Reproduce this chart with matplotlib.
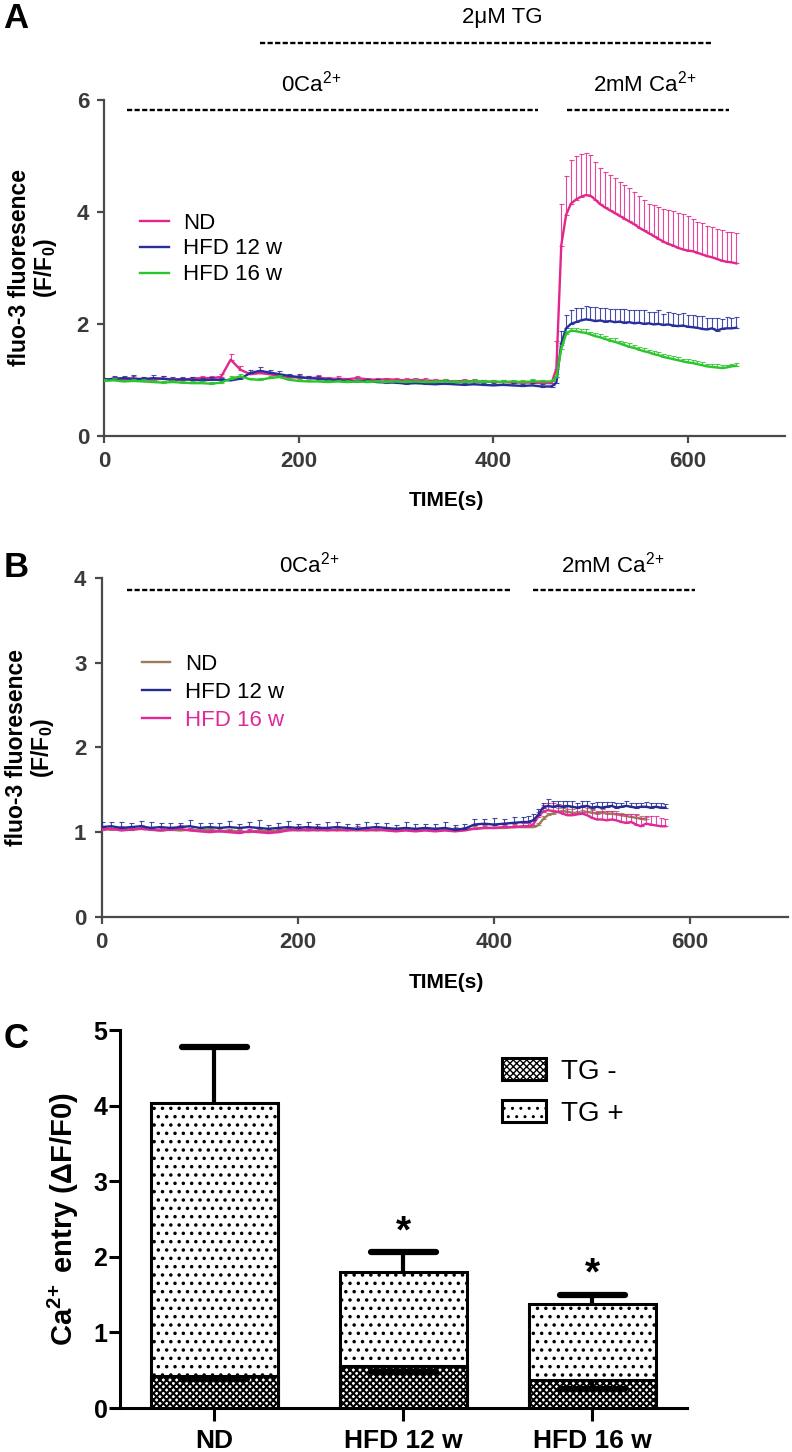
"""Fluo-3 Ca2+ traces (A, B) and Ca2+ entry summary bars (C)"""

import numpy as np
import matplotlib
matplotlib.use("Agg")
import matplotlib.pyplot as plt
from matplotlib.lines import Line2D

plt.rcParams['font.family'] = ['Liberation Sans', 'DejaVu Sans']
plt.rcParams['mathtext.fontset'] = 'custom'
plt.rcParams['mathtext.rm'] = 'Liberation Sans'
plt.rcParams['mathtext.it'] = 'Liberation Sans:italic'
plt.rcParams['mathtext.bf'] = 'Liberation Sans:bold'

GREY = '#4a4a4a'

# ---------------- panel A: with thapsigargin ----------------
t_a = list(range(0, 460, 10)) + list(range(460, 655, 5))

nd_a = [1.00, 1.01, 1.00, 1.02, 1.01, 1.00, 1.02, 1.01, 1.00, 1.02,
        1.03, 1.03, 1.05, 1.36, 1.18, 1.10, 1.12, 1.10, 1.07, 1.05,
        1.04, 1.03, 1.04, 1.02, 1.02, 1.01, 1.03, 1.01, 1.00, 1.01,
        1.00, 0.99, 1.00, 0.99, 0.98, 0.98, 0.97, 0.98, 0.97, 0.97,
        0.96, 0.96, 0.95, 0.95, 0.95, 0.94,
        0.94, 1.20, 3.40, 3.95, 4.15, 4.22, 4.27, 4.30, 4.29, 4.22,
        4.14, 4.08, 4.03, 3.98, 3.93, 3.88, 3.83, 3.78, 3.72, 3.67,
        3.62, 3.57, 3.52, 3.47, 3.43, 3.40, 3.36, 3.33, 3.31, 3.30,
        3.27, 3.24, 3.21, 3.19, 3.16, 3.13, 3.11, 3.10, 3.08]
nd_a_err = [0.03, 0.04, 0.03, 0.05, 0.04, 0.03, 0.04, 0.03, 0.04, 0.03,
            0.04, 0.03, 0.05, 0.10, 0.06, 0.04, 0.05, 0.04, 0.04, 0.03,
            0.04, 0.03, 0.04, 0.03, 0.04, 0.03, 0.04, 0.03, 0.04, 0.03,
            0.03, 0.04, 0.03, 0.04, 0.03, 0.04, 0.03, 0.03, 0.04, 0.03,
            0.03, 0.04, 0.03, 0.03, 0.04, 0.04,
            0.03, 0.50, 0.75, 0.70, 0.78, 0.78, 0.76, 0.76, 0.72, 0.68,
            0.64, 0.63, 0.63, 0.62, 0.61, 0.60, 0.59, 0.58, 0.56, 0.54,
            0.53, 0.55, 0.57, 0.59, 0.60, 0.61, 0.62, 0.63, 0.62, 0.58,
            0.55, 0.56, 0.54, 0.54, 0.53, 0.54, 0.53, 0.54, 0.54]

hfd12_a = [1.00, 1.02, 1.03, 1.02, 1.01, 1.03, 1.02, 1.00, 1.01, 1.00,
           0.99, 1.00, 1.00, 0.99, 1.02, 1.12, 1.16, 1.13, 1.10, 1.07,
           1.05, 1.03, 1.02, 1.00, 0.99, 0.98, 0.97, 0.98, 0.96, 0.95,
           0.95, 0.93, 0.94, 0.93, 0.92, 0.93, 0.92, 0.91, 0.92, 0.91,
           0.90, 0.91, 0.90, 0.89, 0.90, 0.88,
           0.88, 0.95, 1.65, 1.92, 2.00, 2.03, 2.06, 2.08, 2.07, 2.05,
           2.06, 2.04, 2.05, 2.03, 2.04, 2.02, 2.03, 2.01, 2.02, 2.00,
           2.01, 1.99, 2.00, 1.98, 1.99, 1.97, 1.96, 1.97, 1.95, 1.94,
           1.93, 1.91, 1.90, 1.92, 1.88, 1.91, 1.92, 1.92, 1.93]
hfd12_a_err = [0.04, 0.05, 0.04, 0.06, 0.04, 0.05, 0.04, 0.05, 0.04, 0.05,
               0.04, 0.05, 0.04, 0.04, 0.05, 0.06, 0.07, 0.05, 0.05, 0.04,
               0.05, 0.04, 0.05, 0.04, 0.05, 0.04, 0.05, 0.04, 0.05, 0.04,
               0.04, 0.05, 0.04, 0.05, 0.04, 0.05, 0.04, 0.04, 0.05, 0.04,
               0.04, 0.05, 0.04, 0.04, 0.05, 0.04,
               0.03, 0.10, 0.22, 0.24, 0.24, 0.25, 0.22, 0.24, 0.23, 0.25,
               0.22, 0.24, 0.21, 0.23, 0.22, 0.24, 0.21, 0.23, 0.22, 0.24,
               0.21, 0.22, 0.24, 0.20, 0.22, 0.23, 0.21, 0.22, 0.20, 0.22,
               0.21, 0.23, 0.20, 0.19, 0.22, 0.18, 0.20, 0.19, 0.20]

hfd16_a = [0.98, 0.99, 0.97, 0.98, 0.97, 0.96, 0.95, 0.96, 0.95, 0.94,
           0.94, 0.93, 0.95, 1.02, 1.06, 1.01, 1.00, 1.03, 1.05, 1.00,
           0.98, 0.97, 0.97, 0.96, 0.97, 0.96, 0.97, 0.96, 0.97, 0.96,
           0.97, 0.96, 0.97, 0.96, 0.96, 0.97, 0.96, 0.96, 0.97, 0.96,
           0.97, 0.96, 0.97, 0.96, 0.97, 0.97,
           0.97, 1.05, 1.55, 1.82, 1.88, 1.87, 1.85, 1.84, 1.81, 1.78,
           1.76, 1.73, 1.70, 1.68, 1.65, 1.62, 1.59, 1.57, 1.54, 1.51,
           1.49, 1.46, 1.44, 1.41, 1.39, 1.37, 1.35, 1.33, 1.31, 1.30,
           1.28, 1.26, 1.24, 1.23, 1.22, 1.21, 1.22, 1.24, 1.25]
hfd16_a_err = [0.03, 0.04, 0.03, 0.03, 0.04, 0.03, 0.03, 0.04, 0.03, 0.03,
               0.04, 0.03, 0.03, 0.04, 0.04, 0.03, 0.03, 0.04, 0.03, 0.03,
               0.04, 0.03, 0.03, 0.04, 0.03, 0.03, 0.04, 0.03, 0.03, 0.04,
               0.03, 0.03, 0.04, 0.03, 0.03, 0.04, 0.03, 0.03, 0.04, 0.03,
               0.03, 0.04, 0.03, 0.03, 0.04, 0.03,
               0.03, 0.05, 0.08, 0.06, 0.05, 0.06, 0.05, 0.06, 0.05, 0.05,
               0.06, 0.05, 0.05, 0.06, 0.05, 0.05, 0.06, 0.05, 0.05, 0.06,
               0.05, 0.05, 0.06, 0.05, 0.05, 0.06, 0.05, 0.05, 0.06, 0.05,
               0.05, 0.06, 0.05, 0.05, 0.06, 0.05, 0.05, 0.05, 0.05]

# ---------------- panel B: without thapsigargin ----------------
t_b = list(range(0, 440, 10)) + list(range(435, 580, 5))
t_b_nd = list(range(0, 440, 10)) + list(range(435, 560, 5))

nd_b = [1.04, 1.03, 1.04, 1.03, 1.04, 1.03, 1.02, 1.03, 1.02, 1.03,
        1.02, 1.03, 1.01, 1.02, 1.01, 1.00, 1.02, 1.01, 1.02, 1.03,
        1.02, 1.03, 1.02, 1.03, 1.02, 1.03, 1.02, 1.03, 1.02, 1.03,
        1.02, 1.03, 1.02, 1.03, 1.02, 1.03, 1.03, 1.04, 1.04, 1.05,
        1.05, 1.05, 1.06, 1.06,
        1.06, 1.06, 1.08, 1.15, 1.20, 1.22, 1.24, 1.25, 1.24, 1.23,
        1.22, 1.23, 1.24, 1.23, 1.22, 1.23, 1.22, 1.22, 1.21, 1.20,
        1.19, 1.18, 1.17, 1.16, 1.15]
nd_b_err = [0.03, 0.02, 0.03, 0.02, 0.03, 0.02, 0.03, 0.02, 0.03, 0.02,
            0.03, 0.02, 0.03, 0.02, 0.03, 0.02, 0.03, 0.02, 0.03, 0.02,
            0.03, 0.02, 0.03, 0.02, 0.03, 0.02, 0.03, 0.02, 0.03, 0.02,
            0.03, 0.02, 0.03, 0.02, 0.03, 0.02, 0.03, 0.02, 0.03, 0.02,
            0.03, 0.02, 0.03, 0.03,
            0.03, 0.03, 0.03, 0.04, 0.03, 0.03, 0.04, 0.03, 0.03, 0.04,
            0.03, 0.03, 0.04, 0.03, 0.03, 0.04, 0.03, 0.03, 0.04, 0.03,
            0.03, 0.04, 0.03, 0.03, 0.03]

hfd12_b = [1.06, 1.07, 1.05, 1.06, 1.07, 1.05, 1.06, 1.05, 1.06, 1.07,
           1.05, 1.06, 1.05, 1.06, 1.05, 1.06, 1.05, 1.04, 1.05, 1.06,
           1.05, 1.06, 1.05, 1.05, 1.06, 1.05, 1.04, 1.05, 1.06, 1.05,
           1.04, 1.05, 1.04, 1.05, 1.04, 1.05, 1.03, 1.04, 1.09, 1.10,
           1.09, 1.10, 1.11, 1.12,
           1.12, 1.14, 1.20, 1.29, 1.31, 1.30, 1.31, 1.30, 1.31, 1.30,
           1.29, 1.30, 1.31, 1.29, 1.30, 1.29, 1.30, 1.31, 1.29, 1.30,
           1.31, 1.30, 1.29, 1.30, 1.30, 1.29, 1.30, 1.29, 1.29]
hfd12_b_err = [0.06, 0.05, 0.07, 0.05, 0.06, 0.07, 0.05, 0.06, 0.05, 0.07,
               0.06, 0.05, 0.06, 0.07, 0.05, 0.06, 0.09, 0.05, 0.06, 0.07,
               0.05, 0.06, 0.05, 0.07, 0.06, 0.05, 0.06, 0.07, 0.05, 0.06,
               0.05, 0.07, 0.06, 0.05, 0.06, 0.07, 0.05, 0.06, 0.07, 0.06,
               0.08, 0.06, 0.07, 0.06,
               0.07, 0.08, 0.07, 0.06, 0.08, 0.07, 0.06, 0.07, 0.06, 0.07,
               0.06, 0.07, 0.06, 0.05, 0.06, 0.07, 0.06, 0.05, 0.06, 0.05,
               0.06, 0.05, 0.06, 0.05, 0.06, 0.05, 0.04, 0.05, 0.04]

hfd16_b = [1.03, 1.04, 1.02, 1.03, 1.04, 1.03, 1.02, 1.03, 1.04, 1.02,
           1.01, 1.00, 1.01, 1.00, 0.99, 1.01, 1.00, 0.99, 1.00, 1.02,
           1.03, 1.02, 1.03, 1.02, 1.03, 1.02, 1.03, 1.02, 1.03, 1.02,
           1.01, 1.02, 1.01, 1.02, 1.01, 1.02, 1.01, 1.02, 1.04, 1.05,
           1.05, 1.06, 1.06, 1.07,
           1.07, 1.09, 1.18, 1.24, 1.26, 1.25, 1.24, 1.22, 1.20, 1.20,
           1.21, 1.22, 1.20, 1.17, 1.15, 1.15, 1.14, 1.15, 1.14, 1.12,
           1.11, 1.12, 1.09, 1.07, 1.10, 1.09, 1.08, 1.07, 1.07]
hfd16_b_err = [0.04, 0.03, 0.04, 0.03, 0.04, 0.03, 0.04, 0.03, 0.04, 0.03,
               0.04, 0.03, 0.04, 0.03, 0.04, 0.03, 0.04, 0.03, 0.04, 0.03,
               0.04, 0.03, 0.04, 0.03, 0.04, 0.03, 0.04, 0.03, 0.04, 0.03,
               0.04, 0.03, 0.04, 0.03, 0.04, 0.03, 0.04, 0.03, 0.04, 0.03,
               0.04, 0.03, 0.04, 0.04,
               0.04, 0.05, 0.06, 0.08, 0.09, 0.10, 0.09, 0.10, 0.11, 0.10,
               0.09, 0.10, 0.11, 0.10, 0.09, 0.10, 0.11, 0.10, 0.09, 0.10,
               0.11, 0.10, 0.12, 0.10, 0.09, 0.10, 0.11, 0.10, 0.09]

# ---------------- panel C: Ca2+ entry ----------------
groups = ['ND', 'HFD 12 w', 'HFD 16 w']
tg_plus = [4.03, 1.80, 1.375]
tg_plus_err = [0.75, 0.27, 0.12]
tg_minus = [0.43, 0.555, 0.37]
tg_minus_err = [0.04, 0.085, 0.12]
star_y = [None, 2.32, 1.76]

CA = 'Ca$^{2\\!+}$'


def style_trace_axes(ax, ymax, yticks):
    for side in ('top', 'right'):
        ax.spines[side].set_visible(False)
    for side in ('left', 'bottom'):
        ax.spines[side].set_color(GREY)
        ax.spines[side].set_linewidth(1.6)
    ax.set_xlim(0, 700)
    ax.set_ylim(0, ymax)
    ax.set_xticks([0, 200, 400, 600])
    ax.set_yticks(yticks)
    ax.tick_params(direction='out', length=5, width=1.6, color=GREY,
                   labelsize=16, labelcolor='#3a3a3a', pad=6)
    for lab in ax.get_xticklabels() + ax.get_yticklabels():
        lab.set_fontweight('bold')
    ax.set_xlabel('TIME(s)', fontsize=15, fontweight='bold')
    ax.xaxis.set_label_coords(0.502, -0.165)
    ax.xaxis.label.set_va('top')
    ax.text(-0.104, 0.5, 'fluo-3 fluoresence\n(F/F$_{\\mathbf{0}}$)',
            transform=ax.transAxes, rotation=90, ha='center', va='center',
            fontsize=16.5, fontweight='bold', linespacing=1.05)


def trace(ax, t, y, err, color, label, z):
    ax.errorbar(t, y, yerr=[np.zeros(len(err)), err], fmt='none',
                ecolor=color, elinewidth=0.8, capsize=1.8, capthick=0.8,
                alpha=0.85, zorder=z)
    ax.plot(t, y, '-', color=color, lw=1.7, zorder=z + 0.5, label=label)


def dashed(ax, x0, x1, y):
    ax.plot([x0, x1], [y, y], color='black', lw=1.7,
            linestyle=(0, (2.2, 1.0)), clip_on=False)


def bar_err(ax, x, y0, y1, cap_w=0.345):
    # stem from the bar value to the end, cap only at the far end
    ax.vlines(x, y0, y1, color='black', lw=3, zorder=4)
    ax.hlines(y1, x - cap_w / 2, x + cap_w / 2, color='black', lw=4.5,
              capstyle='round', zorder=4)


def main():
    fig = plt.figure(figsize=(7.92, 14.52), dpi=100)

    # ---- A ----
    ax_a = fig.add_axes([0.1317, 0.6999, 0.8593, 0.2312])
    style_trace_axes(ax_a, 6, [0, 2, 4, 6])
    trace(ax_a, t_a, nd_a, nd_a_err, '#e2268c', 'ND', 3)
    trace(ax_a, t_a, hfd12_a, hfd12_a_err, '#27309a', 'HFD 12 w', 4)
    trace(ax_a, t_a, hfd16_a, hfd16_a_err, '#2cc52c', 'HFD 16 w', 5)
    handles = [Line2D([], [], color=c, lw=1.7) for c in ('#e2268c', '#27309a', '#2cc52c')]
    ax_a.legend(handles, ['ND', 'HFD 12 w', 'HFD 16 w'], loc='upper left',
                bbox_to_anchor=(0.052, 0.665), frameon=False, fontsize=16,
                handlelength=1.3, handletextpad=0.65, labelspacing=0.22,
                borderpad=0, borderaxespad=0)
    dashed(ax_a, 160, 625, 7.02)
    ax_a.text(409, 7.48, '2μM TG', ha='center', va='center', fontsize=16)
    dashed(ax_a, 23, 446, 5.82)
    ax_a.text(213, 6.3, '0' + CA, ha='center', va='center', fontsize=16)
    dashed(ax_a, 476, 643, 5.82)
    ax_a.text(556, 6.3, '2mM ' + CA, ha='center', va='center', fontsize=16)

    # ---- B ----
    ax_b = fig.add_axes([0.1284, 0.3685, 0.8666, 0.2335])
    style_trace_axes(ax_b, 4, [0, 1, 2, 3, 4])
    trace(ax_b, t_b_nd, nd_b, nd_b_err, '#9c7c55', 'ND', 3)
    trace(ax_b, t_b, hfd16_b, hfd16_b_err, '#e0289a', 'HFD 16 w', 4)
    trace(ax_b, t_b, hfd12_b, hfd12_b_err, '#232b92', 'HFD 12 w', 5)
    handles = [Line2D([], [], color=c, lw=1.7) for c in ('#9c7c55', '#232b92', '#e0289a')]
    leg = ax_b.legend(handles, ['ND', 'HFD 12 w', 'HFD 16 w'], loc='upper left',
                      bbox_to_anchor=(0.058, 0.775), frameon=False, fontsize=16,
                      handlelength=1.3, handletextpad=0.65, labelspacing=0.3,
                      borderpad=0, borderaxespad=0)
    leg.get_texts()[2].set_color('#e0289a')
    dashed(ax_b, 25.6, 417, 3.86)
    ax_b.text(212, 4.16, '0' + CA, ha='center', va='center', fontsize=16)
    dashed(ax_b, 440, 605.6, 3.86)
    ax_b.text(521, 4.16, '2mM ' + CA, ha='center', va='center', fontsize=16)

    # ---- C ----
    ax_c = fig.add_axes([0.1515, 0.0303, 0.7159, 0.2603])
    x = np.arange(len(groups))
    with plt.rc_context({'hatch.linewidth': 1.3}):
        bp = ax_c.bar(x, tg_plus, width=0.67, color='white', edgecolor='black',
                      hatch='..', linewidth=2.2, zorder=2, label='TG +')
    with plt.rc_context({'hatch.linewidth': 1.5}):
        bm = ax_c.bar(x, tg_minus, width=0.67, color='white', edgecolor='black',
                      hatch='xxxxx', linewidth=2.2, zorder=3, label='TG -')
    for xi, yv, ev in zip(x, tg_plus, tg_plus_err):
        bar_err(ax_c, xi, yv, yv + ev)
    for xi, yv, ev in zip(x, tg_minus, tg_minus_err):
        bar_err(ax_c, xi, yv, yv - ev)
    for xi, ys in zip(x, star_y):
        if ys is not None:
            ax_c.text(xi, ys, '*', ha='center', va='center', fontsize=28,
                      fontweight='bold')
    ax_c.set_xlim(-0.5, 2.5)
    ax_c.set_ylim(0, 5)
    ax_c.set_xticks(x)
    ax_c.set_xticklabels(groups, fontsize=19, fontweight='bold')
    ax_c.set_yticks([0, 1, 2, 3, 4, 5])
    ax_c.tick_params(axis='y', labelsize=18, length=8, width=2.2, pad=1)
    ax_c.tick_params(axis='x', length=9, width=2.2, pad=6)
    for lab in ax_c.get_yticklabels():
        lab.set_fontweight('bold')
    for side in ('top', 'right'):
        ax_c.spines[side].set_visible(False)
    for side in ('left', 'bottom'):
        ax_c.spines[side].set_linewidth(2.2)
    ax_c.text(-0.1005, 0.5, 'Ca$^{\\mathbf{2\\!+}}$ entry (ΔF/F0)',
              transform=ax_c.transAxes, rotation=90, ha='center', va='center',
              fontsize=21, fontweight='bold')
    ax_c.legend([bm, bp], ['TG -', 'TG +'], loc='upper left',
                bbox_to_anchor=(0.6746, 0.926), frameon=False, fontsize=20,
                handlelength=1.55, handleheight=0.85, handletextpad=0.55,
                labelspacing=0.55, borderpad=0, borderaxespad=0)

    # panel letters
    for letter, y in (('A', 1 - 18 / 1452), ('B', 1 - 568 / 1452), ('C', 1 - 1038 / 1452)):
        fig.text(16 / 792, y, letter, ha='center', va='center', fontsize=25,
                 fontweight='bold')

    fig.savefig('out.png', dpi=100)


if __name__ == '__main__':
    main()
